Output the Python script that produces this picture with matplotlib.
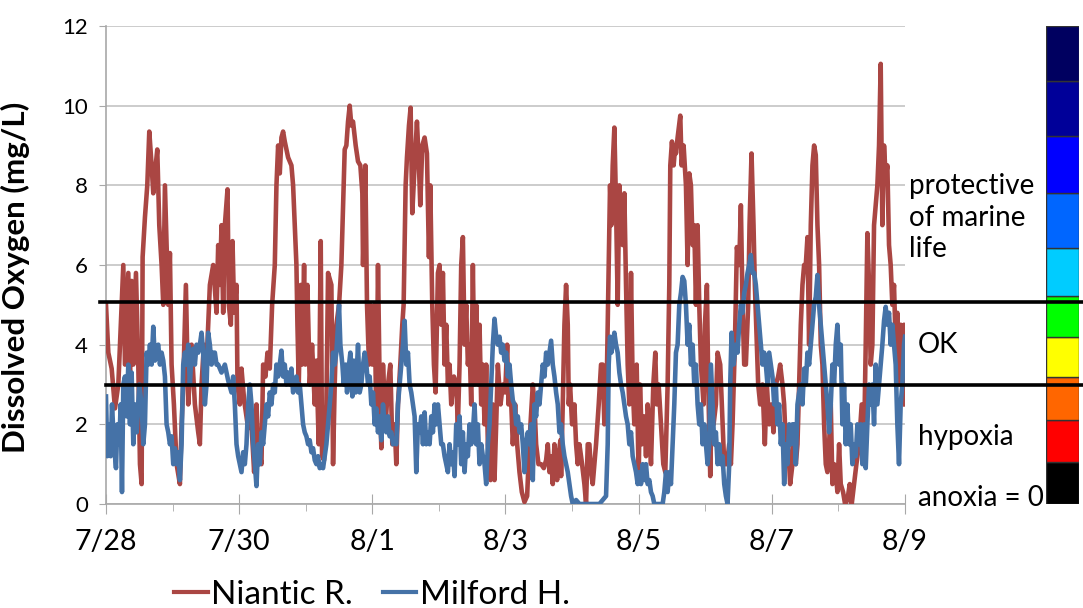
import matplotlib
matplotlib.use('Agg')
import matplotlib.pyplot as plt
import matplotlib.transforms as mtransforms
from matplotlib.lines import Line2D

plt.rcParams['font.family'] = ['Lato', 'DejaVu Sans']

# dissolved oxygen (mg/L), time in days after 7/28 00:00
niantic = [
    (0.00, 5.0), (0.035, 3.8), (0.085, 3.4), (0.135, 2.4), (0.185, 3.0), (0.235, 5.0), (0.26, 6.0),
    (0.285, 3.5), (0.335, 5.8), (0.36, 3.0), (0.385, 5.6), (0.41, 3.5), (0.45, 5.8), (0.485, 3.5),
    (0.51, 1.0), (0.535, 0.5), (0.55, 6.2), (0.585, 7.2), (0.62, 8.0), (0.65, 9.35), (0.685, 8.5),
    (0.71, 7.8), (0.735, 8.3), (0.77, 8.9), (0.80, 7.0), (0.835, 6.0), (0.86, 5.0), (0.885, 8.0),
    (0.91, 6.5), (0.935, 5.0), (0.96, 6.3), (0.985, 3.5), (1.02, 2.5), (1.06, 1.0), (1.11, 0.5),
    (1.135, 2.0), (1.16, 3.0), (1.20, 5.5), (1.235, 2.5), (1.285, 4.0), (1.335, 2.5), (1.385, 1.8),
    (1.41, 1.5), (1.435, 3.0), (1.47, 4.0), (1.51, 3.5), (1.56, 5.5), (1.61, 6.0), (1.66, 4.8),
    (1.685, 6.5), (1.71, 5.5), (1.735, 7.0), (1.76, 4.8), (1.785, 7.0), (1.825, 7.9), (1.845, 5.0),
    (1.875, 4.5), (1.90, 6.6), (1.925, 4.8), (1.96, 5.5), (1.975, 3.0), (2.01, 2.5), (2.035, 3.4),
    (2.075, 2.6), (2.11, 2.2), (2.135, 1.9), (2.16, 2.5), (2.185, 2.0), (2.225, 0.8), (2.26, 2.5),
    (2.285, 1.5), (2.335, 1.0), (2.36, 3.5), (2.395, 3.2), (2.425, 3.8), (2.46, 3.4), (2.495, 5.0),
    (2.535, 6.0), (2.56, 8.0), (2.585, 9.0), (2.61, 8.3), (2.635, 9.2), (2.66, 9.35), (2.685, 9.1),
    (2.735, 8.7), (2.785, 8.5), (2.81, 8.0), (2.835, 7.0), (2.86, 6.0), (2.875, 4.5), (2.895, 3.0),
    (2.925, 5.5), (2.945, 3.5), (2.975, 6.0), (2.995, 3.5), (3.025, 5.5), (3.06, 3.0), (3.095, 4.0),
    (3.135, 2.5), (3.16, 3.6), (3.195, 1.5), (3.225, 6.6), (3.245, 1.2), (3.275, 1.1), (3.31, 2.5),
    (3.335, 5.8), (3.385, 5.5), (3.41, 1.0), (3.435, 3.0), (3.46, 4.5), (3.50, 5.0), (3.535, 6.0),
    (3.56, 7.5), (3.585, 8.9), (3.61, 9.0), (3.635, 9.6), (3.66, 10.0), (3.685, 9.5), (3.71, 9.6),
    (3.75, 9.0), (3.785, 8.6), (3.82, 8.5), (3.85, 7.8), (3.86, 6.0), (3.895, 8.5), (3.92, 5.0),
    (3.95, 3.5), (3.97, 5.0), (4.00, 3.5), (4.035, 5.0), (4.06, 2.0), (4.085, 6.0), (4.11, 3.0),
    (4.135, 1.4), (4.16, 3.5), (4.20, 2.0), (4.235, 3.0), (4.27, 3.5), (4.30, 1.5), (4.335, 2.0),
    (4.36, 1.0), (4.385, 2.5), (4.42, 3.5), (4.45, 4.5), (4.47, 5.0), (4.50, 8.0), (4.52, 8.7),
    (4.55, 9.5), (4.575, 9.95), (4.60, 7.3), (4.635, 8.5), (4.67, 9.6), (4.70, 8.5), (4.72, 7.5),
    (4.75, 9.0), (4.785, 9.2), (4.82, 8.8), (4.85, 6.2), (4.87, 8.0), (4.90, 5.0), (4.925, 3.5),
    (4.95, 2.8), (4.985, 5.8), (5.01, 6.0), (5.035, 4.5), (5.06, 5.8), (5.085, 3.5), (5.11, 4.5),
    (5.135, 3.0), (5.16, 3.5), (5.185, 2.5), (5.225, 3.2), (5.26, 3.0), (5.285, 2.0), (5.31, 3.5),
    (5.335, 6.0), (5.36, 6.7), (5.385, 4.0), (5.41, 5.0), (5.435, 3.5), (5.46, 4.0), (5.485, 2.5),
    (5.51, 6.0), (5.535, 3.0), (5.56, 5.0), (5.585, 3.0), (5.61, 4.5), (5.635, 2.5), (5.66, 3.5),
    (5.685, 2.0), (5.71, 3.5), (5.735, 1.5), (5.775, 0.6), (5.81, 2.5), (5.835, 0.6), (5.86, 2.0),
    (5.885, 3.5), (5.925, 2.5), (5.96, 3.0), (5.995, 2.8), (6.025, 4.0), (6.045, 2.5), (6.075, 3.0),
    (6.11, 1.5), (6.145, 2.5), (6.175, 1.5), (6.21, 0.8), (6.245, 0.3), (6.285, 0.05), (6.325, 0.2),
    (6.345, 1.0), (6.375, 2.0), (6.41, 3.0), (6.435, 2.5), (6.46, 1.5), (6.495, 1.0), (6.535, 1.0),
    (6.575, 0.9), (6.61, 1.1), (6.635, 1.5), (6.66, 0.8), (6.685, 1.2), (6.71, 0.5), (6.735, 1.5),
    (6.775, 0.6), (6.795, 1.2), (6.825, 1.6), (6.835, 0.7), (6.86, 2.5), (6.885, 4.5), (6.91, 5.5),
    (6.935, 4.5), (6.95, 2.5), (6.97, 3.0), (7.00, 2.0), (7.035, 2.5), (7.06, 1.5), (7.085, 1.0),
    (7.11, 1.5), (7.15, 1.0), (7.185, 0.5), (7.21, 0.0), (7.235, 1.5), (7.26, 1.5), (7.285, 0.8),
    (7.31, 0.5), (7.335, 1.0), (7.36, 1.5), (7.40, 2.5), (7.435, 3.5), (7.46, 3.5), (7.485, 2.0),
    (7.52, 3.0), (7.55, 6.0), (7.57, 8.0), (7.59, 7.0), (7.61, 8.5), (7.635, 9.45), (7.66, 7.5),
    (7.685, 5.0), (7.71, 8.0), (7.735, 7.0), (7.76, 6.5), (7.785, 7.8), (7.81, 5.5), (7.835, 3.5),
    (7.86, 2.5), (7.885, 5.8), (7.91, 3.0), (7.935, 2.0), (7.97, 3.5), (8.00, 0.6), (8.02, 3.0),
    (8.05, 1.5), (8.085, 2.2), (8.11, 1.2), (8.135, 2.5), (8.16, 2.0), (8.185, 1.0), (8.22, 3.0),
    (8.25, 3.8), (8.27, 2.5), (8.30, 3.0), (8.335, 2.0), (8.37, 1.0), (8.40, 0.8), (8.435, 3.0),
    (8.46, 5.5), (8.475, 8.5), (8.50, 9.1), (8.525, 8.5), (8.55, 9.0), (8.56, 8.8), (8.585, 9.2),
    (8.625, 9.75), (8.645, 8.5), (8.675, 9.0), (8.71, 8.0), (8.735, 6.0), (8.76, 8.3), (8.785, 8.0),
    (8.81, 6.5), (8.835, 7.0), (8.86, 5.0), (8.885, 7.0), (8.91, 5.0), (8.935, 3.5), (8.975, 2.5),
    (8.995, 4.5), (9.025, 5.5), (9.045, 3.0), (9.075, 0.7), (9.095, 2.5), (9.125, 2.0), (9.16, 2.5),
    (9.185, 3.8), (9.225, 3.5), (9.26, 2.0), (9.285, 1.0), (9.325, 1.0), (9.36, 1.5), (9.385, 1.0),
    (9.41, 2.0), (9.445, 4.0), (9.475, 6.45), (9.51, 6.0), (9.535, 7.5), (9.56, 5.0), (9.585, 3.5),
    (9.61, 3.5), (9.645, 5.0), (9.665, 7.0), (9.695, 8.8), (9.725, 7.0), (9.745, 5.5), (9.775, 4.0),
    (9.795, 3.0), (9.825, 2.5), (9.86, 3.0), (9.895, 1.5), (9.925, 3.0), (9.96, 2.0), (9.995, 2.5),
    (10.025, 1.8), (10.06, 3.0), (10.095, 3.2), (10.125, 3.5), (10.16, 3.0), (10.185, 2.5),
    (10.21, 1.5), (10.245, 1.5), (10.275, 0.5), (10.31, 1.0), (10.335, 2.0), (10.36, 1.0),
    (10.385, 1.5), (10.41, 3.0), (10.435, 4.5), (10.46, 5.5), (10.485, 6.0), (10.51, 6.0),
    (10.535, 6.7), (10.56, 4.0), (10.585, 7.0), (10.61, 8.5), (10.635, 9.0), (10.66, 8.76),
    (10.685, 7.0), (10.71, 6.0), (10.735, 4.0), (10.76, 3.5), (10.785, 2.0), (10.81, 1.0),
    (10.835, 0.8), (10.86, 1.5), (10.885, 2.5), (10.91, 0.5), (10.935, 1.0), (10.96, 0.8),
    (10.985, 0.3), (11.01, 1.5), (11.035, 0.5), (11.07, 0.3), (11.10, 0.0), (11.135, 0.1),
    (11.17, 0.5), (11.20, 0.0), (11.235, 0.5), (11.27, 1.0), (11.31, 1.5), (11.35, 2.5),
    (11.385, 1.5), (11.41, 4.0), (11.435, 6.8), (11.46, 5.5), (11.485, 3.5), (11.51, 4.0),
    (11.535, 7.0), (11.56, 7.5), (11.585, 8.0), (11.61, 9.0), (11.635, 11.05), (11.66, 7.0),
    (11.685, 9.0), (11.71, 8.2), (11.735, 8.5), (11.76, 6.5), (11.785, 6.0), (11.81, 5.0),
    (11.835, 5.5), (11.86, 4.0), (11.885, 4.8), (11.91, 3.0), (11.935, 4.5), (11.96, 3.5),
    (11.985, 4.5), (12.0, 2.5),
]

milford = [
    (0.00, 2.7), (0.02, 1.2), (0.05, 2.0), (0.07, 1.2), (0.09, 2.5), (0.12, 1.5), (0.15, 0.9),
    (0.17, 2.0), (0.20, 1.5), (0.22, 2.5), (0.24, 0.3), (0.26, 3.0), (0.285, 3.2), (0.31, 2.2),
    (0.335, 3.5), (0.36, 2.0), (0.385, 3.3), (0.41, 1.5), (0.435, 2.5), (0.46, 1.8), (0.50, 3.0),
    (0.535, 2.5), (0.56, 1.5), (0.585, 2.0), (0.61, 3.8), (0.635, 3.5), (0.66, 4.0), (0.685, 3.5),
    (0.71, 4.45), (0.735, 3.6), (0.76, 3.9), (0.785, 4.0), (0.81, 3.5), (0.835, 3.8), (0.86, 3.6),
    (0.885, 3.2), (0.91, 2.0), (0.935, 1.8), (0.96, 1.5), (0.985, 1.7), (1.01, 1.0), (1.035, 1.4),
    (1.06, 1.0), (1.085, 1.3), (1.11, 0.6), (1.135, 1.5), (1.16, 3.5), (1.185, 3.8), (1.21, 3.5),
    (1.235, 4.0), (1.26, 3.0), (1.285, 3.8), (1.31, 3.9), (1.335, 3.5), (1.36, 4.0), (1.385, 3.8),
    (1.41, 4.0), (1.435, 4.3), (1.46, 3.8), (1.485, 2.5), (1.51, 3.0), (1.535, 4.3), (1.56, 4.0),
    (1.585, 3.5), (1.61, 3.8), (1.635, 3.8), (1.66, 3.5), (1.685, 3.5), (1.735, 3.3), (1.785, 3.5),
    (1.835, 3.1), (1.885, 2.8), (1.91, 3.2), (1.935, 2.5), (1.96, 1.5), (1.985, 1.2), (2.01, 1.0),
    (2.035, 0.8), (2.06, 1.3), (2.085, 1.0), (2.11, 1.5), (2.135, 2.5), (2.16, 3.0), (2.185, 2.5),
    (2.21, 1.5), (2.235, 1.0), (2.26, 0.45), (2.285, 1.5), (2.31, 1.0), (2.335, 1.8), (2.36, 1.5),
    (2.385, 2.0), (2.41, 2.5), (2.435, 2.2), (2.46, 2.8), (2.485, 2.5), (2.51, 3.0), (2.535, 2.8),
    (2.56, 3.5), (2.585, 3.2), (2.61, 3.5), (2.635, 3.85), (2.66, 3.2), (2.685, 3.5), (2.71, 3.0),
    (2.735, 3.3), (2.76, 3.0), (2.785, 3.4), (2.81, 2.8), (2.835, 3.0), (2.86, 3.2), (2.885, 2.8),
    (2.91, 3.0), (2.935, 2.5), (2.96, 2.0), (2.985, 1.8), (3.01, 1.7), (3.035, 1.5), (3.06, 1.6),
    (3.085, 1.3), (3.11, 1.4), (3.135, 1.1), (3.16, 1.0), (3.185, 1.2), (3.21, 0.9), (3.235, 1.0),
    (3.26, 0.9), (3.285, 1.2), (3.31, 1.5), (3.335, 2.0), (3.36, 2.5), (3.385, 3.0), (3.41, 3.8),
    (3.435, 3.5), (3.46, 3.8), (3.485, 4.5), (3.50, 5.0), (3.52, 4.0), (3.55, 3.5), (3.57, 3.0),
    (3.60, 3.5), (3.62, 2.8), (3.65, 3.5), (3.67, 3.8), (3.70, 2.7), (3.72, 3.6), (3.75, 2.8),
    (3.785, 4.0), (3.81, 2.8), (3.835, 3.0), (3.86, 3.5), (3.885, 3.8), (3.91, 3.5), (3.935, 3.0),
    (3.96, 3.2), (3.985, 2.5), (4.01, 2.8), (4.035, 2.0), (4.06, 2.4), (4.085, 1.8), (4.11, 2.2),
    (4.135, 1.6), (4.16, 2.5), (4.185, 2.0), (4.21, 1.8), (4.235, 2.2), (4.26, 1.7), (4.285, 1.8),
    (4.31, 1.5), (4.335, 1.6), (4.36, 1.5), (4.385, 2.5), (4.41, 3.0), (4.435, 3.5), (4.46, 4.0),
    (4.485, 4.6), (4.51, 3.5), (4.535, 3.8), (4.56, 3.0), (4.585, 2.8), (4.61, 2.5), (4.635, 2.2),
    (4.66, 0.8), (4.685, 2.0), (4.71, 1.8), (4.735, 2.2), (4.76, 1.5), (4.785, 2.3), (4.81, 1.5),
    (4.835, 1.8), (4.86, 1.5), (4.885, 2.2), (4.91, 1.8), (4.935, 2.5), (4.96, 2.0), (4.985, 2.5),
    (5.01, 2.0), (5.035, 1.5), (5.06, 1.5), (5.085, 1.2), (5.11, 1.0), (5.135, 0.8), (5.16, 1.5),
    (5.185, 1.0), (5.21, 1.3), (5.235, 0.7), (5.26, 2.0), (5.285, 1.5), (5.31, 2.2), (5.335, 1.0),
    (5.36, 1.8), (5.385, 0.8), (5.41, 1.5), (5.435, 1.2), (5.46, 2.0), (5.485, 1.5), (5.51, 1.8),
    (5.535, 2.5), (5.56, 1.5), (5.585, 2.0), (5.61, 1.0), (5.635, 1.5), (5.66, 1.2), (5.685, 1.0),
    (5.71, 0.5), (5.735, 1.5), (5.76, 2.0), (5.785, 3.0), (5.81, 4.0), (5.835, 4.65), (5.86, 4.2),
    (5.885, 4.0), (5.91, 4.2), (5.935, 3.8), (5.96, 4.0), (5.985, 3.6), (6.01, 3.8), (6.035, 3.2),
    (6.06, 3.5), (6.085, 3.0), (6.11, 2.6), (6.135, 2.5), (6.16, 2.0), (6.185, 2.2), (6.21, 1.8),
    (6.235, 2.0), (6.26, 1.5), (6.285, 0.8), (6.31, 1.5), (6.335, 1.8), (6.36, 1.5), (6.385, 2.0),
    (6.41, 0.6), (6.435, 2.5), (6.46, 2.2), (6.485, 2.8), (6.51, 2.5), (6.535, 3.0), (6.56, 3.5),
    (6.585, 3.2), (6.61, 3.8), (6.635, 3.5), (6.66, 3.8), (6.685, 4.1), (6.71, 3.5), (6.735, 3.2),
    (6.76, 2.8), (6.785, 2.5), (6.81, 1.8), (6.835, 2.0), (6.86, 1.5), (6.885, 1.2), (6.91, 1.0),
    (6.935, 0.8), (6.96, 0.5), (6.985, 0.2), (7.01, 0.0), (7.06, 0.1), (7.11, 0.0), (7.21, 0.0),
    (7.31, 0.0), (7.41, 0.0), (7.51, 0.2), (7.535, 1.5), (7.55, 3.5), (7.57, 4.2), (7.59, 3.8),
    (7.61, 4.0), (7.635, 4.3), (7.66, 4.0), (7.685, 3.8), (7.71, 3.3), (7.735, 3.0), (7.76, 2.8),
    (7.785, 2.5), (7.81, 2.2), (7.835, 2.0), (7.86, 1.5), (7.885, 1.8), (7.91, 1.2), (7.935, 1.0),
    (7.96, 0.8), (7.985, 0.5), (8.01, 0.8), (8.035, 0.5), (8.06, 1.0), (8.085, 0.6), (8.11, 1.0),
    (8.135, 0.5), (8.16, 0.6), (8.185, 0.3), (8.21, 0.2), (8.235, 0.0), (8.31, 0.0), (8.36, 0.0),
    (8.385, 0.3), (8.41, 0.8), (8.435, 0.3), (8.46, 0.8), (8.485, 0.5), (8.51, 1.5), (8.535, 2.5),
    (8.56, 3.8), (8.585, 4.0), (8.61, 5.0), (8.635, 5.3), (8.66, 5.7), (8.685, 5.6), (8.71, 5.0),
    (8.735, 4.0), (8.76, 4.5), (8.785, 3.5), (8.81, 4.0), (8.835, 3.0), (8.86, 3.5), (8.885, 2.5),
    (8.91, 2.0), (8.935, 2.5), (8.96, 1.5), (8.985, 2.0), (9.01, 1.5), (9.035, 1.0), (9.06, 1.5),
    (9.085, 3.5), (9.11, 2.5), (9.135, 1.5), (9.16, 1.8), (9.185, 1.0), (9.21, 1.5), (9.235, 1.0),
    (9.26, 1.2), (9.285, 0.5), (9.31, 0.2), (9.335, 0.0), (9.36, 1.0), (9.375, 3.0), (9.395, 4.3),
    (9.425, 3.5), (9.46, 4.0), (9.485, 3.8), (9.51, 4.5), (9.535, 5.0), (9.56, 4.8), (9.585, 5.3),
    (9.61, 5.5), (9.635, 5.8), (9.66, 6.0), (9.685, 6.25), (9.71, 5.8), (9.735, 5.8), (9.76, 5.5),
    (9.785, 5.0), (9.81, 4.5), (9.835, 4.0), (9.86, 3.5), (9.885, 3.8), (9.91, 3.5), (9.935, 3.0),
    (9.96, 3.8), (9.985, 3.5), (10.01, 3.2), (10.035, 2.5), (10.06, 3.0), (10.085, 2.0),
    (10.11, 2.5), (10.135, 1.5), (10.16, 2.0), (10.185, 0.5), (10.21, 1.5), (10.235, 1.0),
    (10.26, 2.0), (10.285, 1.5), (10.31, 2.0), (10.335, 2.0), (10.36, 1.0), (10.385, 2.5),
    (10.41, 2.8), (10.435, 3.0), (10.46, 2.5), (10.485, 3.4), (10.51, 3.0), (10.535, 3.8),
    (10.56, 3.5), (10.585, 4.0), (10.61, 4.5), (10.635, 5.0), (10.66, 5.2), (10.685, 5.75),
    (10.71, 5.0), (10.735, 4.5), (10.76, 4.0), (10.785, 3.5), (10.81, 3.0), (10.835, 2.5),
    (10.86, 1.8), (10.885, 2.5), (10.91, 3.5), (10.935, 3.0), (10.96, 4.0), (10.985, 4.5),
    (11.01, 3.5), (11.035, 4.0), (11.06, 2.0), (11.085, 3.0), (11.11, 1.5), (11.135, 2.5),
    (11.16, 1.5), (11.185, 2.0), (11.21, 1.0), (11.235, 1.5), (11.26, 1.2), (11.285, 2.0),
    (11.31, 1.5), (11.335, 2.0), (11.36, 1.0), (11.385, 2.0), (11.41, 0.9), (11.435, 2.0),
    (11.46, 3.0), (11.485, 2.5), (11.51, 3.0), (11.535, 2.0), (11.56, 3.5), (11.585, 2.5),
    (11.61, 3.0), (11.635, 3.5), (11.66, 4.0), (11.685, 4.6), (11.71, 4.95), (11.735, 4.5),
    (11.76, 4.8), (11.785, 4.0), (11.81, 4.5), (11.835, 4.0), (11.86, 3.5), (11.885, 2.0),
    (11.91, 1.0), (11.935, 2.5), (11.96, 3.0), (11.985, 4.0), (12.0, 4.2),
]

x_ticks = [0, 2, 4, 6, 8, 10, 12]
x_labels = ['7/28', '7/30', '8/1', '8/3', '8/5', '8/7', '8/9']
y_ticks = [0, 2, 4, 6, 8, 10, 12]

# threshold lines (mg/L)
upper_limit = 5.07
lower_limit = 3.0

# colour scale on the right, bottom to top
zone_bounds = [0, 1.06, 2.12, 3.19, 4.19, 5.23, 6.43, 7.8, 9.24, 10.62, 12.0]
zone_colors = ['#000000', '#FF0000', '#FF6600', '#FFFF00', '#00FF00',
               '#00CCFF', '#0066FF', '#0000FF', '#000099', '#000060']
zone_labels = ['protective\nof marine\nlife', 'OK', 'hypoxia', 'anoxia = 0']
zone_label_y = [7.19, 4.0, 1.68, 0.15]

W, H = 1083, 608
fig = plt.figure(figsize=(W / 100, H / 100), dpi=100)
ax = fig.add_axes([106 / W, 1 - 504 / H, (905 - 106) / W, (504 - 26) / H])

red = '#AA4643'
blue = '#4572A7'
ax.plot([p[0] for p in niantic], [p[1] for p in niantic], color=red, lw=3.3,
        solid_joinstyle='round', label='Niantic R.', zorder=3)
ax.plot([p[0] for p in milford], [p[1] for p in milford], color=blue, lw=3.3,
        solid_joinstyle='round', label='Milford H.', zorder=4)

ax.set_xlim(0, 12)
ax.set_ylim(0, 12)
ax.set_xticks(x_ticks)
ax.set_xticklabels(x_labels, fontsize=20.5)
ax.set_xticks(range(0, 13), minor=True)
ax.set_yticks(y_ticks)
ax.set_yticklabels([str(v) for v in y_ticks], fontsize=16)
ax.grid(axis='y', color='#C4C4C4', lw=1.2)
ax.set_axisbelow(True)
for s in ['top', 'right']:
    ax.spines[s].set_visible(False)
for s in ['left', 'bottom']:
    ax.spines[s].set_color('#A8A8A8')
    ax.spines[s].set_linewidth(1.2)
ax.tick_params(axis='y', direction='out', length=5, color='#A8A8A8', pad=8)
ax.tick_params(axis='x', which='major', direction='inout', length=14, color='#A8A8A8', pad=11)
ax.tick_params(axis='x', which='minor', direction='out', length=5, color='#A8A8A8')
ax.set_ylabel('Dissolved Oxygen (mg/L)', fontsize=22.5, fontweight='bold')
ax.yaxis.set_label_coords(-0.095, 0.475)

# colour scale
cax = fig.add_axes([1046 / W, 1 - 504 / H, 33 / W, (504 - 26) / H])
for i, c in enumerate(zone_colors):
    cax.bar(0, zone_bounds[i + 1] - zone_bounds[i], bottom=zone_bounds[i], width=1,
            color=c, edgecolor='#333333', linewidth=1)
cax.set_xlim(-0.5, 0.5)
cax.set_ylim(0, 12)
cax.axis('off')

# zone labels
tx = [909, 918, 918, 918]
for lab, yv, xp in zip(zone_labels, zone_label_y, tx):
    ax.text((xp - 106) / 66.6, yv, lab, fontsize=20, va='center', ha='left',
            linespacing=1.25, clip_on=False)

# threshold lines across plot and scale
tr = mtransforms.blended_transform_factory(fig.transFigure, ax.transData)
fig.add_artist(Line2D([100 / W, 1], [upper_limit, upper_limit], color='black', lw=2.6,
                      transform=tr, zorder=10))
fig.add_artist(Line2D([106 / W, 1], [lower_limit, lower_limit], color='black', lw=2.6,
                      transform=tr, zorder=10))

handles = [Line2D([], [], color=red, lw=3), Line2D([], [], color=blue, lw=3)]
fig.legend(handles, ['Niantic R.', 'Milford H.'], loc='center', ncol=2,
           bbox_to_anchor=(372 / W, 1 - 595 / H), frameon=False, fontsize=24,
           handlelength=1.0, handletextpad=0.1, columnspacing=0.9)

fig.savefig('out.png', dpi=100)
